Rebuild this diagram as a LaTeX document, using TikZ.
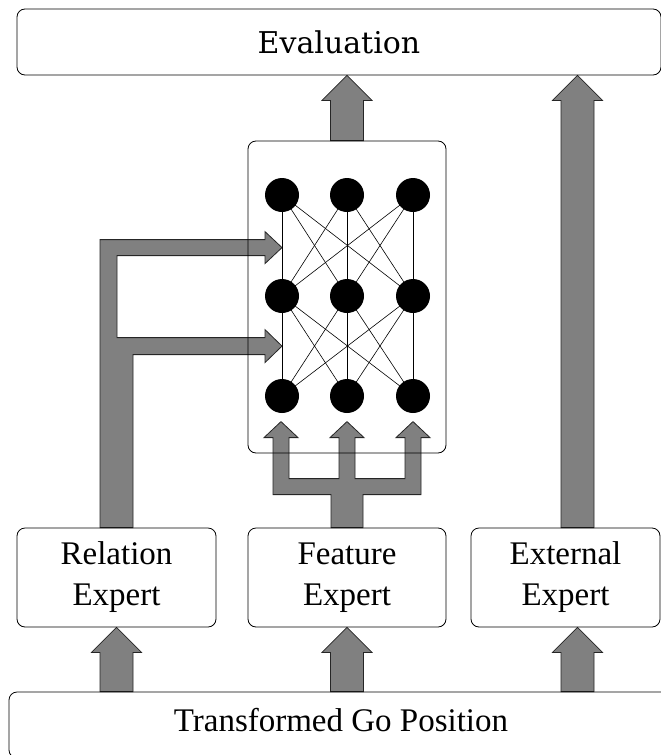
\documentclass[tikz,border=0pt]{standalone}
\usepackage{fontspec}
\setmainfont{Liberation Serif}
\newfontfamily\evalfont{DejaVu Serif}
\usepackage{tikz}
\usetikzlibrary{calc,backgrounds}
\definecolor{fatgrey}{HTML}{808080}
\tikzset{
  box/.style={draw=black,line width=0.8pt,rounded corners=8pt,align=center,inner sep=0pt,font=\fontsize{33}{41}\selectfont},
  neuron/.style={circle,fill=black,minimum size=34pt,inner sep=0pt},
  syn/.style={line width=0.6pt},
  fat/.style={fill=fatgrey,draw=black!85,line width=0.8pt,line join=miter},
}
% fat upward arrow from #1 to the height of #2
\newcommand{\fatup}[2]{%
  \path[fat] let \p1=(#1), \p2=(#2) in
    (\x1-16.5pt,\y1) -- (\x1-16.5pt,\y2-25pt) -- (\x1-25pt,\y2-25pt) -- (\x1,\y2)
    -- (\x1+25pt,\y2-25pt) -- (\x1+16.5pt,\y2-25pt) -- (\x1+16.5pt,\y1) -- cycle;}
\begin{document}
\begin{tikzpicture}[x=1pt,y=-1pt]
  \useasboundingbox (0,0) rectangle (661,755);
  \clip (0,0) rectangle (661,755);
  \node[box,minimum width=644pt,minimum height=66pt,font=\evalfont\fontsize{30}{36}\selectfont] (eval) at (339,42) {Evaluation};
  \node[box,minimum width=198pt,minimum height=312pt] (net) at (347,297) {};
  \node[box,minimum width=199pt,minimum height=99pt] (rel) at (116.5,577.5) {Relation\\Expert};
  \node[box,minimum width=198pt,minimum height=99pt] (feat) at (347,577.5) {Feature\\Expert};
  \node[box,minimum width=189pt,minimum height=99pt] (ext) at (565.5,577.5) {External\\Expert};
  \node[box,minimum width=664pt,minimum height=66pt,
    label={[font=\fontsize{33}{41}\selectfont,yshift=5pt]center:Transformed Go Position}] (pos) at (341,725) {};
  % network
  \foreach \c/\x in {1/282,2/347,3/413}
    \foreach \r/\y in {1/195,2/296,3/396}
      \node[neuron] (n\c\r) at (\x,\y) {};
  \foreach \a in {1,2,3}
    \foreach \b in {1,2,3} {
      \draw[syn] (n\a1.center) -- (n\b2.center);
      \draw[syn] (n\a2.center) -- (n\b3.center);
    }
  % fat arrows
  \begin{scope}[on background layer]
    \fatup{net.north}{eval.south}
    \fatup{$(ext.north)+(12,0)$}{eval.south}
    \fatup{rel.south |- pos.north}{rel.south}
    \fatup{feat.south |- pos.north}{feat.south}
    \fatup{$(ext.south |- pos.north)+(12,0)$}{ext.south}
    \begin{scope}[shift={(rel.north)}]
      \path[fat] (-16.5,0) -- (-16.5,-288) -- (148.5,-288) -- (148.5,-296) -- (165.5,-280)
        -- (148.5,-264) -- (148.5,-272) -- (0.5,-272) -- (0.5,-190) -- (148.5,-190)
        -- (148.5,-198) -- (165.5,-181.5) -- (148.5,-165) -- (148.5,-173) -- (16.5,-173)
        -- (16.5,0) -- cycle;
    \end{scope}
    \begin{scope}[shift={(feat.north)}]
      \path[fat] (-16,0) -- (-16,-33) -- (-74,-33) -- (-74,-90) -- (-83,-90) -- (-66,-106)
        -- (-49,-90) -- (-58,-90) -- (-58,-49) -- (-8,-49) -- (-8,-90) -- (-17,-90)
        -- (0,-106) -- (17,-90) -- (8,-90) -- (8,-49) -- (58,-49) -- (58,-90) -- (49,-90)
        -- (66,-106) -- (83,-90) -- (74,-90) -- (74,-33) -- (16,-33) -- (16,0) -- cycle;
    \end{scope}
  \end{scope}
\end{tikzpicture}
\end{document}
